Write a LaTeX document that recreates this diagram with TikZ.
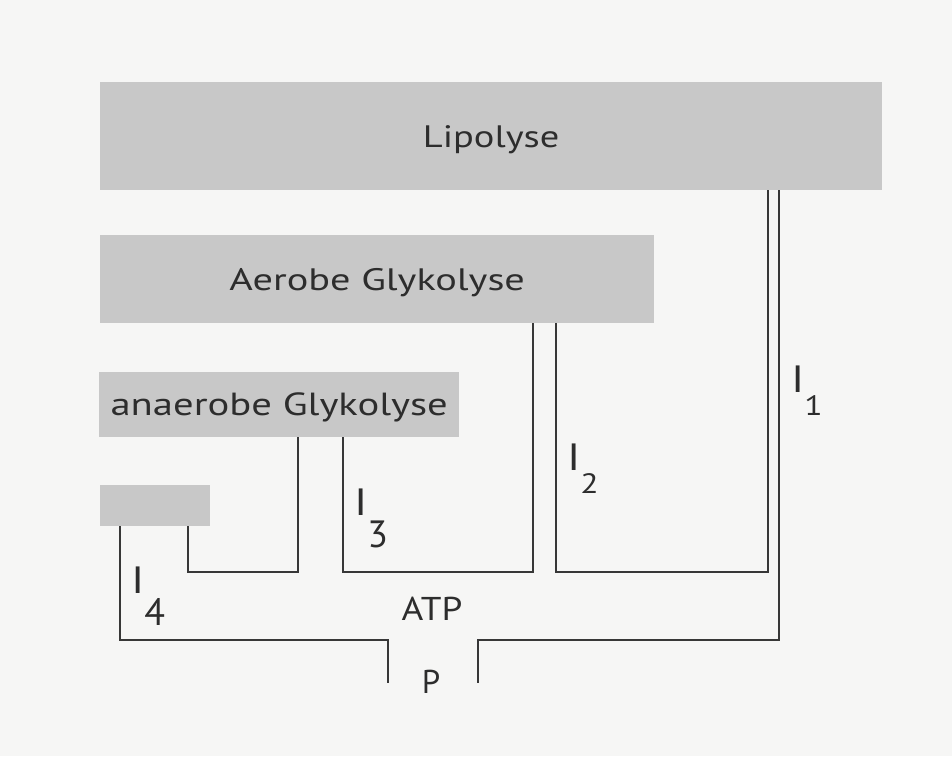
\documentclass[tikz,border=0pt]{standalone}
\usepackage{fontspec}
\usepackage{graphicx}
\setmainfont{PT Sans}
\definecolor{boxgray}{RGB}{200,200,200}
\definecolor{txt}{RGB}{45,45,45}
\definecolor{wire}{RGB}{55,55,55}
\definecolor{bg}{RGB}{246,246,245}
\newcommand{\widetxt}[2]{\scalebox{#1}[1]{#2}}
\begin{document}
\begin{tikzpicture}[x=1pt,y=-1pt,
  box/.style={fill=boxgray, draw=none, inner sep=0pt, text=txt,
    font=\fontsize{31}{31}\selectfont, text height=21.7pt, text depth=0pt,
    anchor=north west},
  wire/.style={draw=wire, line width=2.4pt, line cap=butt, line join=miter},
  lbl/.style={text=txt, inner sep=0pt, anchor=base west, font=\fontsize{38}{38}\selectfont},
  plain/.style={text=txt, inner sep=0pt, anchor=base, font=\fontsize{33}{33}\selectfont}]
\fill[bg] (0,0) rectangle (952,756);
\useasboundingbox (0,0) rectangle (952,756);

\node[box, minimum width=782pt, minimum height=108pt] (lip) at (100,82) {\widetxt{1.24}{Lipolyse}};
\node[box, minimum width=554pt, minimum height=88pt] (aer) at (100,235) {\widetxt{1.30}{Aerobe Glykolyse}};
\node[box, minimum width=360pt, minimum height=65pt, font=\fontsize{32}{32}\selectfont, text height=22.4pt] (ana) at (99,372) {\widetxt{1.27}{anaerobe Glykolyse}};
\node[box, minimum width=110pt, minimum height=41pt] (sm) at (100,485) {};

\coordinate (a1) at (768,572);
\coordinate (b1) at (556,572);
\coordinate (a2) at (779,640);
\coordinate (b2) at (478,640);
\coordinate (pR) at (478,683);
\coordinate (a3) at (533,572);
\coordinate (b3) at (343,572);
\coordinate (a4) at (298,572);
\coordinate (b4) at (188,572);
\coordinate (a5) at (120,640);
\coordinate (b5) at (388,640);
\coordinate (pL) at (388,683);

\draw[wire] (lip.south -| a1) -- (a1) -- (b1) -- (aer.south -| b1);
\draw[wire] (lip.south -| a2) -- (a2) -- (b2) -- (pR);
\draw[wire] (aer.south -| a3) -- (a3) -- (b3) -- (ana.south -| b3);
\draw[wire] (ana.south -| a4) -- (a4) -- (b4) -- (sm.south -| b4);
\draw[wire] (sm.south -| a5) -- (a5) -- (b5) -- (pL);

\node[lbl] (i1) at (791,392) {\widetxt{1.2}{I}\raisebox{-23pt}{\fontsize{28}{28}\selectfont\widetxt{1.2}{1}}};
\node[lbl] (i2) at (567,470) {\widetxt{1.2}{I}\raisebox{-23pt}{\fontsize{28}{28}\selectfont\widetxt{1.2}{2}}};
\node[lbl] (i3) at (354,515) {\widetxt{1.2}{I}\raisebox{-32pt}{\fontsize{38}{38}\selectfont 3}};
\node[lbl] (i4) at (131,593) {\widetxt{1.2}{I}\raisebox{-32pt}{\fontsize{38}{38}\selectfont 4}};

\node[plain] (atp) at (432,620) {\widetxt{1.13}{ATP}};
\node[plain] (p) at (431,693) {P};
\end{tikzpicture}
\end{document}
